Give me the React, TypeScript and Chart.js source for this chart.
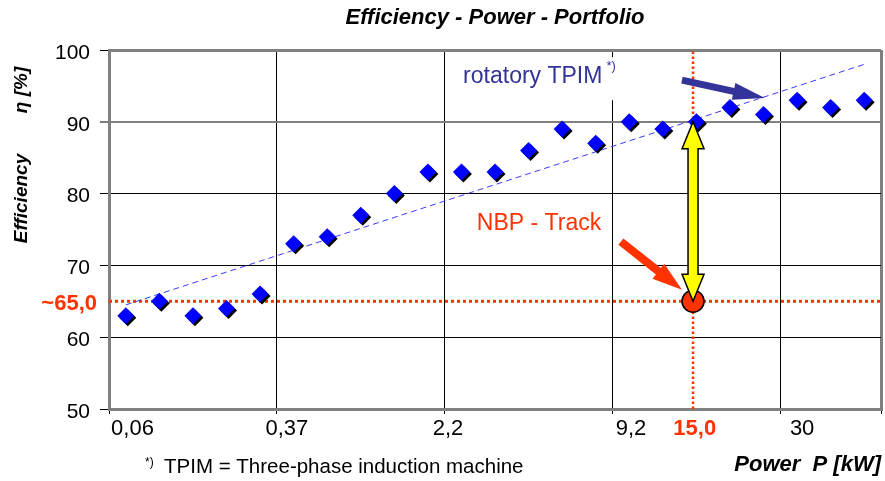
import React, { useEffect, useRef } from 'react';
import { Chart, registerables } from 'chart.js';

Chart.register(...registerables);

// ---------- data ----------
const machineIndex = [0, 1, 2, 3, 4, 5, 6, 7, 8, 9, 10, 11, 12, 13, 14, 15, 16, 17, 18, 19, 20, 21, 22];
const efficiency = [63, 65, 63, 64, 66, 73, 74, 77, 80, 83, 83, 83, 86, 89, 87, 90, 89, 90, 92, 91, 93, 92, 93];

const trendX = [0, 22];
const trendY = [64.5, 98];

const powerTickLabels = ['0,06', '0,37', '2,2', '9,2', '15,0', '30'];
const powerTickPositions = [0.2, 4.8, 9.6, 15.05, 16.95, 20.15];
const highlightTickIndex = 4;

const gridPositions = [-0.5, 4.5, 9.5, 14.5, 19.5, 22.5];
const yTicks = [50, 60, 70, 80, 90, 100];

const nbpPower = 16.9;
const nbpEfficiency = 65;
const nbpEfficiencyLabel = '~65,0';
const tpimAtNbp = 90;

const blueArrowFrom = [16.57, 95.8];
const blueArrowTo = [19.04, 93.3];
const redArrowFrom = [14.75, 73.3];
const redArrowTo = [16.57, 66.6];

const tpimLabelPos = [10.05, 95.4];
const tpimBox = [9.6, 14.6, 93, 99];
const nbpLabelPos = [10.46, 74.9];

const FONT = '"Liberation Sans", Arial, Helvetica, sans-serif';
const RED = '#ff3300';
const NAVY = '#333399';
const GRAY = '#808080';

function drawArrow(
  ctx: CanvasRenderingContext2D,
  x1: number, y1: number, x2: number, y2: number,
  shaftW: number, headW: number, headL: number,
  fill: string, stroke: string | null, double: boolean
) {
  const dx = x2 - x1, dy = y2 - y1;
  const len = Math.hypot(dx, dy);
  const ux = dx / len, uy = dy / len;
  const nx = -uy, ny = ux;
  const s = shaftW / 2, h = headW / 2;
  const nkx = x2 - ux * headL, nky = y2 - uy * headL;
  const pts: [number, number][] = [];
  if (double) {
    const tkx = x1 + ux * headL, tky = y1 + uy * headL;
    pts.push([x1, y1]);
    pts.push([tkx + nx * h, tky + ny * h]);
    pts.push([tkx + nx * s, tky + ny * s]);
    pts.push([nkx + nx * s, nky + ny * s]);
    pts.push([nkx + nx * h, nky + ny * h]);
    pts.push([x2, y2]);
    pts.push([nkx - nx * h, nky - ny * h]);
    pts.push([nkx - nx * s, nky - ny * s]);
    pts.push([tkx - nx * s, tky - ny * s]);
    pts.push([tkx - nx * h, tky - ny * h]);
  } else {
    pts.push([x1 + nx * s, y1 + ny * s]);
    pts.push([nkx + nx * s, nky + ny * s]);
    pts.push([nkx + nx * h, nky + ny * h]);
    pts.push([x2, y2]);
    pts.push([nkx - nx * h, nky - ny * h]);
    pts.push([nkx - nx * s, nky - ny * s]);
    pts.push([x1 - nx * s, y1 - ny * s]);
  }
  ctx.beginPath();
  pts.forEach(([px, py], i) => (i === 0 ? ctx.moveTo(px, py) : ctx.lineTo(px, py)));
  ctx.closePath();
  ctx.fillStyle = fill;
  ctx.fill();
  if (stroke) {
    ctx.strokeStyle = stroke;
    ctx.lineWidth = 1.5;
    ctx.lineJoin = 'miter';
    ctx.stroke();
  }
}

const shadowPlugin = {
  id: 'pointShadow',
  beforeDatasetDraw(chart: any, args: any) {
    if (chart.data.datasets[args.index].label === 'TPIM') {
      const ctx = chart.ctx;
      ctx.save();
      ctx.shadowColor = '#000000';
      ctx.shadowOffsetX = 2;
      ctx.shadowOffsetY = 2;
      ctx.shadowBlur = 0;
    }
  },
  afterDatasetDraw(chart: any, args: any) {
    if (chart.data.datasets[args.index].label === 'TPIM') {
      chart.ctx.restore();
    }
  },
};

const annotationPlugin = {
  id: 'annotations',
  beforeDatasetsDraw(chart: any) {
    const { ctx, scales } = chart;
    const x = scales.x, y = scales.y;
    ctx.save();
    ctx.fillStyle = '#ffffff';
    const bx1 = x.getPixelForValue(tpimBox[0]);
    const bx2 = x.getPixelForValue(tpimBox[1]);
    const by1 = y.getPixelForValue(tpimBox[3]);
    const by2 = y.getPixelForValue(tpimBox[2]);
    ctx.fillRect(bx1, by1, bx2 - bx1, by2 - by1);
    ctx.restore();
  },
  afterDatasetsDraw(chart: any) {
    const { ctx, scales } = chart;
    const x = scales.x, y = scales.y;
    ctx.save();

    // yellow double arrow
    const ax = x.getPixelForValue(nbpPower);
    drawArrow(ctx, ax, y.getPixelForValue(tpimAtNbp), ax, y.getPixelForValue(nbpEfficiency), 10, 22, 27, '#ffff00', '#000000', true);

    // blue arrow
    drawArrow(ctx,
      x.getPixelForValue(blueArrowFrom[0]), y.getPixelForValue(blueArrowFrom[1]),
      x.getPixelForValue(blueArrowTo[0]), y.getPixelForValue(blueArrowTo[1]),
      7, 17, 32, NAVY, null, false);

    // red arrow
    drawArrow(ctx,
      x.getPixelForValue(redArrowFrom[0]), y.getPixelForValue(redArrowFrom[1]),
      x.getPixelForValue(redArrowTo[0]), y.getPixelForValue(redArrowTo[1]),
      8, 19, 30, RED, null, false);

    // texts
    ctx.textBaseline = 'alphabetic';
    ctx.textAlign = 'left';
    ctx.fillStyle = NAVY;
    ctx.font = `23px ${FONT}`;
    const tx = x.getPixelForValue(tpimLabelPos[0]);
    const ty = y.getPixelForValue(tpimLabelPos[1]);
    ctx.fillText('rotatory TPIM', tx, ty);
    const tw = ctx.measureText('rotatory TPIM').width;
    ctx.font = `13px ${FONT}`;
    ctx.fillText('*)', tx + tw + 4, ty - 13);

    ctx.fillStyle = RED;
    ctx.font = `23px ${FONT}`;
    ctx.fillText('NBP - Track', x.getPixelForValue(nbpLabelPos[0]), y.getPixelForValue(nbpLabelPos[1]));

    // ~65,0 label on the y axis
    ctx.textAlign = 'right';
    ctx.textBaseline = 'middle';
    ctx.font = `bold 22px ${FONT}`;
    ctx.fillText(nbpEfficiencyLabel, 97, y.getPixelForValue(nbpEfficiency) + 3);

    // y axis title
    ctx.save();
    ctx.translate(22, 0);
    ctx.rotate(-Math.PI / 2);
    ctx.fillStyle = '#000000';
    ctx.font = `italic bold 19px ${FONT}`;
    ctx.textAlign = 'center';
    ctx.textBaseline = 'middle';
    ctx.fillText('Efficiency', -198.5, 0);
    ctx.fillText('\u03b7 [%]', -90, 0);
    ctx.restore();

    // footnote
    ctx.textAlign = 'left';
    ctx.textBaseline = 'alphabetic';
    ctx.fillStyle = '#000000';
    ctx.font = `12px ${FONT}`;
    ctx.fillText('*)', 145, 466);
    ctx.font = `20.5px ${FONT}`;
    ctx.fillText('TPIM = Three-phase induction machine', 164, 473);

    ctx.restore();
  },
};

export default function App() {
  const canvasRef = useRef<HTMLCanvasElement | null>(null);

  useEffect(() => {
    if (!canvasRef.current) return;
    const chart = new Chart(canvasRef.current, {
      type: 'scatter',
      data: {
        datasets: [
          {
            label: 'NBP',
            data: [{ x: nbpPower, y: nbpEfficiency }],
            pointRadius: 11,
            pointBackgroundColor: RED,
            pointBorderColor: '#000000',
            pointBorderWidth: 1.5,
            showLine: false,
            order: 0,
          },
          {
            label: 'TPIM',
            data: machineIndex.map((i, k) => ({ x: i, y: efficiency[k] })),
            pointStyle: 'rectRot',
            pointRadius: 8.5,
            pointBackgroundColor: '#0000ff',
            pointBorderWidth: 0,
            showLine: false,
            order: 1,
          },
          {
            label: 'Trend',
            data: trendX.map((v, k) => ({ x: v, y: trendY[k] })),
            showLine: true,
            borderColor: '#3a3aff',
            borderWidth: 1,
            borderDash: [6, 4],
            pointRadius: 0,
            order: 2,
          },
          {
            label: 'NBP power',
            data: [{ x: nbpPower, y: 50 }, { x: nbpPower, y: 100 }],
            showLine: true,
            borderColor: RED,
            borderWidth: 2.5,
            borderDash: [2.5, 2.5],
            pointRadius: 0,
            order: 3,
          },
          {
            label: 'NBP efficiency',
            data: [{ x: -0.5, y: nbpEfficiency }, { x: 22.5, y: nbpEfficiency }],
            showLine: true,
            borderColor: RED,
            borderWidth: 3,
            borderDash: [3, 3],
            pointRadius: 0,
            order: 4,
          },
        ],
      },
      options: {
        animation: false,
        responsive: false,
        events: [],
        layout: { autoPadding: false, padding: { top: 0, right: 4, bottom: 0, left: 0 } },
        plugins: {
          legend: { display: false },
          tooltip: { enabled: false },
          title: {
            display: true,
            fullSize: false,
            text: 'Efficiency - Power - Portfolio',
            color: '#000000',
            font: { family: FONT, size: 22, style: 'italic', weight: 'bold', lineHeight: 1.2 },
            padding: { top: 4.8, bottom: 18.8 },
          },
        },
        scales: {
          x: {
            type: 'linear',
            min: -0.5,
            max: 22.5,
            weight: 0,
            afterBuildTicks: (scale: any) => {
              scale.ticks = gridPositions.map((v) => ({ value: v }));
            },
            afterFit: (scale: any) => {
              scale.height = 5;
            },
            ticks: { display: false },
            grid: {
              color: (c: any) => (c.tick && (c.tick.value === -0.5 || c.tick.value === 22.5) ? GRAY : '#000000'),
              lineWidth: (c: any) => (c.tick && (c.tick.value === -0.5 || c.tick.value === 22.5) ? 3 : 1),
              tickColor: '#000000',
              tickWidth: 1,
              tickLength: 5,
              drawTicks: true,
            },
            border: { display: true, color: GRAY, width: 3 },
          },
          xl: {
            type: 'linear',
            position: 'bottom',
            min: -0.5,
            max: 22.5,
            weight: 1,
            afterBuildTicks: (scale: any) => {
              scale.ticks = powerTickPositions.map((v) => ({ value: v }));
            },
            afterFit: (scale: any) => {
              scale.height = 67;
            },
            ticks: {
              autoSkip: false,
              maxRotation: 0,
              padding: 2,
              callback: (_v: any, i: number) => powerTickLabels[i],
              color: (c: any) => (c.index === highlightTickIndex ? RED : '#000000'),
              font: (c: any) =>
                c.index === highlightTickIndex
                  ? { family: FONT, size: 22, weight: 'bold' }
                  : { family: FONT, size: 22 },
            },
            grid: { display: false, drawTicks: false },
            border: { display: false },
            title: {
              display: true,
              text: 'Power  P [kW]',
              align: 'end',
              color: '#000000',
              font: { family: FONT, size: 22, style: 'italic', weight: 'bold', lineHeight: 1.2 },
              padding: { top: 0, bottom: 3 },
            },
          },
          y: {
            type: 'linear',
            position: 'left',
            min: 50,
            max: 100,
            afterBuildTicks: (scale: any) => {
              scale.ticks = yTicks.map((v) => ({ value: v }));
            },
            afterFit: (scale: any) => {
              scale.width = 109;
            },
            ticks: {
              color: '#000000',
              padding: 10,
              labelOffset: 3,
              font: { family: FONT, size: 21 },
            },
            grid: {
              color: (c: any) => (c.tick && [50, 90, 100].includes(c.tick.value) ? GRAY : '#000000'),
              lineWidth: (c: any) => (c.tick && (c.tick.value === 50 || c.tick.value === 100) ? 3 : c.tick && c.tick.value === 90 ? 2 : 1),
              tickColor: '#000000',
              tickWidth: 1,
              tickLength: 9,
            },
            border: { display: true, color: GRAY, width: 3 },
          },
        },
      },
      plugins: [shadowPlugin, annotationPlugin],
    } as any);
    return () => chart.destroy();
  }, []);

  return (
    <div style={{ position: 'fixed', left: 0, top: 0, width: 885, height: 481, background: '#ffffff' }}>
      <canvas ref={canvasRef} width={885} height={481} style={{ display: 'block' }} />
    </div>
  );
}
